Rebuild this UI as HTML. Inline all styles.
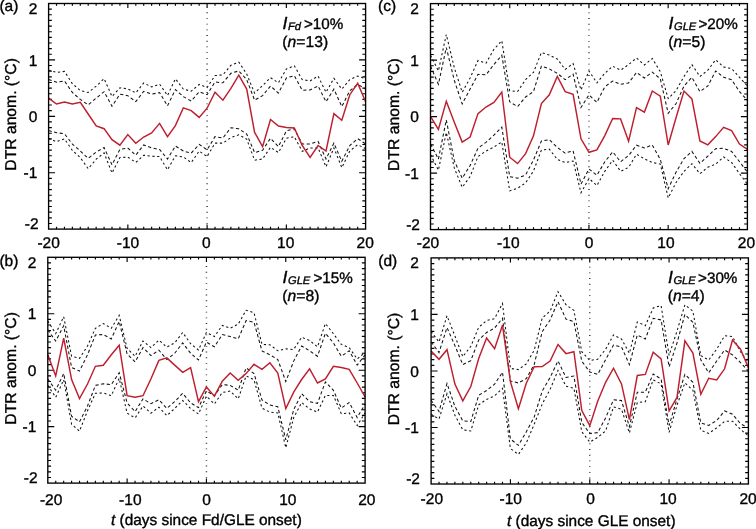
<!DOCTYPE html>
<html lang="en"><head><meta charset="utf-8"><title>DTR anomaly composites</title>
<style>html,body{margin:0;padding:0;background:#fff;overflow:hidden}svg{display:block;will-change:transform}text{font-family:"Liberation Sans",Arial,Helvetica,sans-serif;font-size:15.5px;fill:#000;stroke:#000;stroke-width:.36px;text-rendering:geometricPrecision}.fr{fill:none;stroke:#000;stroke-width:1.35}.tk{stroke:#000;stroke-width:1.15;fill:none}.red{fill:none;stroke:#be1e2d;stroke-width:1.45;stroke-linejoin:miter}.di{fill:none;stroke:#111;stroke-width:1.05;stroke-dasharray:3.2 2.5}.do{fill:none;stroke:#111;stroke-width:1.05;stroke-dasharray:2.2 2.6}.v0{stroke:#333;stroke-width:1.5;stroke-dasharray:.85 4.85;fill:none}.it{font-style:italic}.bigI{font-style:italic;font-size:17.6px}.sub{font-size:11.1px;font-style:italic}</style></head><body>
<svg width="756" height="529" viewBox="0 0 756 529">
<rect width="756" height="529" fill="#fff"/>
<g>
<path class="tk" d="M56.52 229.10v-2.31M56.52 3.50v2.31M64.45 229.10v-2.31M64.45 3.50v2.31M72.38 229.10v-2.31M72.38 3.50v2.31M80.30 229.10v-2.31M80.30 3.50v2.31M88.22 229.10v-2.31M88.22 3.50v2.31M96.15 229.10v-2.31M96.15 3.50v2.31M104.08 229.10v-2.31M104.08 3.50v2.31M112.00 229.10v-2.31M112.00 3.50v2.31M119.93 229.10v-2.31M119.93 3.50v2.31M127.85 229.10v-4.62M127.85 3.50v4.62M135.78 229.10v-2.31M135.78 3.50v2.31M143.70 229.10v-2.31M143.70 3.50v2.31M151.62 229.10v-2.31M151.62 3.50v2.31M159.55 229.10v-2.31M159.55 3.50v2.31M167.47 229.10v-2.31M167.47 3.50v2.31M175.40 229.10v-2.31M175.40 3.50v2.31M183.32 229.10v-2.31M183.32 3.50v2.31M191.25 229.10v-2.31M191.25 3.50v2.31M199.17 229.10v-2.31M199.17 3.50v2.31M207.10 229.10v-4.62M207.10 3.50v4.62M215.02 229.10v-2.31M215.02 3.50v2.31M222.95 229.10v-2.31M222.95 3.50v2.31M230.88 229.10v-2.31M230.88 3.50v2.31M238.80 229.10v-2.31M238.80 3.50v2.31M246.72 229.10v-2.31M246.72 3.50v2.31M254.65 229.10v-2.31M254.65 3.50v2.31M262.57 229.10v-2.31M262.57 3.50v2.31M270.50 229.10v-2.31M270.50 3.50v2.31M278.43 229.10v-2.31M278.43 3.50v2.31M286.35 229.10v-4.62M286.35 3.50v4.62M294.27 229.10v-2.31M294.27 3.50v2.31M302.20 229.10v-2.31M302.20 3.50v2.31M310.12 229.10v-2.31M310.12 3.50v2.31M318.05 229.10v-2.31M318.05 3.50v2.31M325.98 229.10v-2.31M325.98 3.50v2.31M333.90 229.10v-2.31M333.90 3.50v2.31M341.82 229.10v-2.31M341.82 3.50v2.31M349.75 229.10v-2.31M349.75 3.50v2.31M357.68 229.10v-2.31M357.68 3.50v2.31M48.60 9.14h3.25M365.60 9.14h-3.25M48.60 14.78h3.25M365.60 14.78h-3.25M48.60 20.42h3.25M365.60 20.42h-3.25M48.60 26.06h3.25M365.60 26.06h-3.25M48.60 31.70h3.25M365.60 31.70h-3.25M48.60 37.34h3.25M365.60 37.34h-3.25M48.60 42.98h3.25M365.60 42.98h-3.25M48.60 48.62h3.25M365.60 48.62h-3.25M48.60 54.26h3.25M365.60 54.26h-3.25M48.60 59.90h6.50M365.60 59.90h-6.50M48.60 65.54h3.25M365.60 65.54h-3.25M48.60 71.18h3.25M365.60 71.18h-3.25M48.60 76.82h3.25M365.60 76.82h-3.25M48.60 82.46h3.25M365.60 82.46h-3.25M48.60 88.10h3.25M365.60 88.10h-3.25M48.60 93.74h3.25M365.60 93.74h-3.25M48.60 99.38h3.25M365.60 99.38h-3.25M48.60 105.02h3.25M365.60 105.02h-3.25M48.60 110.66h3.25M365.60 110.66h-3.25M48.60 116.30h6.50M365.60 116.30h-6.50M48.60 121.94h3.25M365.60 121.94h-3.25M48.60 127.58h3.25M365.60 127.58h-3.25M48.60 133.22h3.25M365.60 133.22h-3.25M48.60 138.86h3.25M365.60 138.86h-3.25M48.60 144.50h3.25M365.60 144.50h-3.25M48.60 150.14h3.25M365.60 150.14h-3.25M48.60 155.78h3.25M365.60 155.78h-3.25M48.60 161.42h3.25M365.60 161.42h-3.25M48.60 167.06h3.25M365.60 167.06h-3.25M48.60 172.70h6.50M365.60 172.70h-6.50M48.60 178.34h3.25M365.60 178.34h-3.25M48.60 183.98h3.25M365.60 183.98h-3.25M48.60 189.62h3.25M365.60 189.62h-3.25M48.60 195.26h3.25M365.60 195.26h-3.25M48.60 200.90h3.25M365.60 200.90h-3.25M48.60 206.54h3.25M365.60 206.54h-3.25M48.60 212.18h3.25M365.60 212.18h-3.25M48.60 217.82h3.25M365.60 217.82h-3.25M48.60 223.46h3.25M365.60 223.46h-3.25"/>
<path class="v0" d="M207.10 12.30V229.10"/>
<polyline class="do" points="48.6,70.3 56.5,72.4 64.5,71.4 72.4,83.8 80.3,90.5 88.2,92.5 96.2,86.2 104.1,78.7 112.0,96.5 119.9,87.8 127.8,88.9 135.8,92.9 143.7,83.0 151.6,87.0 159.6,84.1 167.5,95.5 175.4,78.8 183.3,89.1 191.2,91.2 199.2,84.4 207.1,87.5 215.0,75.6 222.9,74.8 230.9,65.3 238.8,62.1 246.7,74.0 254.6,93.1 262.6,85.6 270.5,77.7 278.4,82.8 286.4,69.0 294.3,65.8 302.2,79.6 310.1,80.9 318.1,76.1 326.0,92.3 333.9,78.3 341.8,89.1 349.8,79.6 357.7,76.1 365.6,78.8"/>
<polyline class="di" points="48.6,79.4 56.5,82.2 64.5,81.0 72.4,92.5 80.3,99.4 88.2,104.9 96.2,98.1 104.1,91.7 112.0,106.3 119.9,94.1 127.8,95.7 135.8,101.6 143.7,91.3 151.6,94.1 159.6,92.6 167.5,105.8 175.4,89.6 183.3,96.6 191.2,101.0 199.2,91.8 207.1,94.7 215.0,82.0 222.9,82.8 230.9,73.3 238.8,70.9 246.7,79.6 254.6,100.2 262.6,95.6 270.5,86.0 278.4,93.1 286.4,78.0 294.3,75.6 302.2,90.2 310.1,89.9 318.1,86.0 326.0,101.8 333.9,89.1 341.8,106.6 349.8,90.7 357.7,84.4 365.6,89.1"/>
<polyline class="di" points="48.6,130.6 56.5,132.7 64.5,133.8 72.4,144.1 80.3,151.0 88.2,158.4 96.2,152.1 104.1,147.6 112.0,164.8 119.9,149.4 127.8,148.1 135.8,155.2 143.7,144.9 151.6,147.8 159.6,149.5 167.5,159.0 175.4,146.0 183.3,151.0 191.2,153.1 199.2,144.4 207.1,149.8 215.0,136.7 222.9,138.0 230.9,127.7 238.8,128.8 246.7,134.0 254.6,152.6 262.6,150.2 270.5,138.3 278.4,146.6 286.4,130.9 294.3,128.8 302.2,143.9 310.1,143.9 318.1,141.5 326.0,159.0 333.9,143.1 341.8,161.3 349.8,145.5 357.7,138.7 365.6,143.9"/>
<polyline class="do" points="48.6,138.6 56.5,141.7 64.5,138.9 72.4,150.5 80.3,157.6 88.2,168.7 96.2,159.2 104.1,152.9 112.0,173.0 119.9,157.6 127.8,157.1 135.8,162.4 143.7,155.2 151.6,156.3 159.6,156.5 167.5,169.8 175.4,155.8 183.3,156.9 191.2,162.6 199.2,151.0 207.1,156.6 215.0,143.1 222.9,143.1 230.9,137.5 238.8,134.8 246.7,139.1 254.6,160.2 262.6,159.0 270.5,147.3 278.4,152.6 286.4,138.3 294.3,136.7 302.2,151.3 310.1,147.9 318.1,147.9 326.0,166.9 333.9,147.9 341.8,167.7 349.8,151.0 357.7,144.7 365.6,148.7"/>
<polyline class="red" points="48.6,98.1 56.5,104.0 64.5,102.1 72.4,104.0 80.3,102.4 88.2,114.0 96.2,125.9 104.1,128.7 112.0,139.7 119.9,145.2 127.8,134.6 135.8,143.3 143.7,137.0 151.6,133.0 159.6,123.4 167.5,136.7 175.4,125.6 183.3,107.9 191.2,110.6 199.2,117.4 207.1,108.2 215.0,92.3 222.9,100.2 230.9,88.3 238.8,75.2 246.7,89.1 254.6,132.4 262.6,146.6 270.5,119.5 278.4,126.0 286.4,127.5 294.3,128.0 302.2,145.5 310.1,157.4 318.1,145.5 326.0,151.0 333.9,113.7 341.8,120.3 349.8,94.7 357.7,83.3 365.6,101.8"/>
<rect class="fr" x="48.60" y="3.50" width="317.00" height="225.60"/>
<text x="37.4" y="13.8" text-anchor="end">2</text>
<text x="37.4" y="65.5" text-anchor="end">1</text>
<text x="37.4" y="121.8" text-anchor="end">0</text>
<text x="37.4" y="178.2" text-anchor="end">-1</text>
<text x="38.6" y="229.4" text-anchor="end">-2</text>
<text x="48.6" y="248.1" text-anchor="middle">-20</text>
<text x="128.0" y="248.1" text-anchor="middle">-10</text>
<text x="206.3" y="248.1" text-anchor="middle">0</text>
<text x="285.7" y="248.1" text-anchor="middle">10</text>
<text x="365.2" y="248.1" text-anchor="middle">20</text>
<text x="-0.6" y="10.6">(a)</text>
<text transform="translate(16.4 114.4) rotate(-90)" text-anchor="middle" style="font-size:15.7px">DTR anom. (°C)</text>
<text x="282.6" y="28.5" class="bigI">I</text>
<text x="288.0" y="29.9" class="sub">Fd</text>
<text x="303.9" y="28.5" style="font-size:15.2px">&gt;10%</text>
<text x="282.3" y="47.0" style="font-size:15.7px">(<tspan class="it">n</tspan>=13)</text>
</g>
<g>
<path class="tk" d="M55.73 483.10v-2.31M55.73 257.30v2.31M63.66 483.10v-2.31M63.66 257.30v2.31M71.60 483.10v-2.31M71.60 257.30v2.31M79.53 483.10v-2.31M79.53 257.30v2.31M87.46 483.10v-2.31M87.46 257.30v2.31M95.39 483.10v-2.31M95.39 257.30v2.31M103.33 483.10v-2.31M103.33 257.30v2.31M111.26 483.10v-2.31M111.26 257.30v2.31M119.19 483.10v-2.31M119.19 257.30v2.31M127.12 483.10v-4.63M127.12 257.30v4.63M135.06 483.10v-2.31M135.06 257.30v2.31M142.99 483.10v-2.31M142.99 257.30v2.31M150.92 483.10v-2.31M150.92 257.30v2.31M158.86 483.10v-2.31M158.86 257.30v2.31M166.79 483.10v-2.31M166.79 257.30v2.31M174.72 483.10v-2.31M174.72 257.30v2.31M182.65 483.10v-2.31M182.65 257.30v2.31M190.58 483.10v-2.31M190.58 257.30v2.31M198.52 483.10v-2.31M198.52 257.30v2.31M206.45 483.10v-4.63M206.45 257.30v4.63M214.38 483.10v-2.31M214.38 257.30v2.31M222.31 483.10v-2.31M222.31 257.30v2.31M230.25 483.10v-2.31M230.25 257.30v2.31M238.18 483.10v-2.31M238.18 257.30v2.31M246.11 483.10v-2.31M246.11 257.30v2.31M254.05 483.10v-2.31M254.05 257.30v2.31M261.98 483.10v-2.31M261.98 257.30v2.31M269.91 483.10v-2.31M269.91 257.30v2.31M277.84 483.10v-2.31M277.84 257.30v2.31M285.77 483.10v-4.63M285.77 257.30v4.63M293.71 483.10v-2.31M293.71 257.30v2.31M301.64 483.10v-2.31M301.64 257.30v2.31M309.57 483.10v-2.31M309.57 257.30v2.31M317.50 483.10v-2.31M317.50 257.30v2.31M325.44 483.10v-2.31M325.44 257.30v2.31M333.37 483.10v-2.31M333.37 257.30v2.31M341.30 483.10v-2.31M341.30 257.30v2.31M349.24 483.10v-2.31M349.24 257.30v2.31M357.17 483.10v-2.31M357.17 257.30v2.31M47.80 262.94h3.25M365.10 262.94h-3.25M47.80 268.59h3.25M365.10 268.59h-3.25M47.80 274.24h3.25M365.10 274.24h-3.25M47.80 279.88h3.25M365.10 279.88h-3.25M47.80 285.53h3.25M365.10 285.53h-3.25M47.80 291.17h3.25M365.10 291.17h-3.25M47.80 296.81h3.25M365.10 296.81h-3.25M47.80 302.46h3.25M365.10 302.46h-3.25M47.80 308.11h3.25M365.10 308.11h-3.25M47.80 313.75h6.50M365.10 313.75h-6.50M47.80 319.40h3.25M365.10 319.40h-3.25M47.80 325.04h3.25M365.10 325.04h-3.25M47.80 330.69h3.25M365.10 330.69h-3.25M47.80 336.33h3.25M365.10 336.33h-3.25M47.80 341.98h3.25M365.10 341.98h-3.25M47.80 347.62h3.25M365.10 347.62h-3.25M47.80 353.26h3.25M365.10 353.26h-3.25M47.80 358.91h3.25M365.10 358.91h-3.25M47.80 364.56h3.25M365.10 364.56h-3.25M47.80 370.20h6.50M365.10 370.20h-6.50M47.80 375.85h3.25M365.10 375.85h-3.25M47.80 381.49h3.25M365.10 381.49h-3.25M47.80 387.13h3.25M365.10 387.13h-3.25M47.80 392.78h3.25M365.10 392.78h-3.25M47.80 398.43h3.25M365.10 398.43h-3.25M47.80 404.07h3.25M365.10 404.07h-3.25M47.80 409.72h3.25M365.10 409.72h-3.25M47.80 415.36h3.25M365.10 415.36h-3.25M47.80 421.00h3.25M365.10 421.00h-3.25M47.80 426.65h6.50M365.10 426.65h-6.50M47.80 432.30h3.25M365.10 432.30h-3.25M47.80 437.94h3.25M365.10 437.94h-3.25M47.80 443.59h3.25M365.10 443.59h-3.25M47.80 449.23h3.25M365.10 449.23h-3.25M47.80 454.88h3.25M365.10 454.88h-3.25M47.80 460.52h3.25M365.10 460.52h-3.25M47.80 466.17h3.25M365.10 466.17h-3.25M47.80 471.81h3.25M365.10 471.81h-3.25M47.80 477.46h3.25M365.10 477.46h-3.25"/>
<path class="v0" d="M206.45 266.10V483.10"/>
<polyline class="do" points="47.8,321.0 55.7,333.6 63.7,316.7 71.6,356.3 79.5,358.4 87.5,346.0 95.4,328.3 103.3,323.5 111.3,328.3 119.2,315.4 127.1,348.4 135.1,356.3 143.0,341.0 150.9,347.6 158.9,340.1 166.8,347.1 174.7,342.9 182.7,332.5 190.6,343.7 198.5,350.0 206.4,332.5 214.4,336.5 222.3,325.4 230.2,328.3 238.2,324.1 246.1,310.3 254.0,312.7 262.0,344.4 269.9,344.8 277.8,350.8 285.8,348.9 293.7,349.5 301.6,337.3 309.6,340.5 317.5,346.8 325.4,323.5 333.4,333.7 341.3,344.4 349.2,347.6 357.2,359.0 365.1,352.4"/>
<polyline class="di" points="47.8,329.8 55.7,341.1 63.7,325.8 71.6,367.5 79.5,371.1 87.5,354.8 95.4,334.9 103.3,334.6 111.3,338.9 119.2,321.4 127.1,354.0 135.1,361.9 143.0,347.6 150.9,355.6 158.9,350.2 166.8,359.5 174.7,353.2 182.7,342.9 190.6,353.2 198.5,360.0 206.4,342.1 214.4,346.8 222.3,334.6 230.2,336.5 238.2,338.9 246.1,320.6 254.0,322.2 262.0,351.0 269.9,354.8 277.8,359.5 285.8,381.5 293.7,361.1 301.6,346.0 309.6,350.8 317.5,356.3 325.4,333.3 333.4,342.9 341.3,356.3 349.2,350.8 357.2,365.1 365.1,354.8"/>
<polyline class="di" points="47.8,379.0 55.7,390.2 63.7,373.5 71.6,416.3 79.5,421.9 87.5,406.0 95.4,385.4 103.3,383.8 111.3,384.6 119.2,372.7 127.1,402.9 135.1,411.6 143.0,398.9 150.9,403.7 158.9,399.7 166.8,408.4 174.7,401.6 182.7,393.3 190.6,402.9 198.5,407.6 206.4,391.0 214.4,395.7 222.3,384.6 230.2,385.4 238.2,390.2 246.1,367.9 254.0,373.5 262.0,400.0 269.9,405.0 277.8,406.8 285.8,439.8 293.7,409.7 301.6,393.8 309.6,401.7 317.5,403.3 325.4,381.9 333.4,390.3 341.3,408.1 349.2,402.5 357.2,417.6 365.1,404.1"/>
<polyline class="do" points="47.8,385.4 55.7,397.3 63.7,379.8 71.6,424.3 79.5,431.1 87.5,410.8 95.4,393.3 103.3,393.0 111.3,395.7 119.2,378.3 127.1,413.2 135.1,417.9 143.0,406.0 150.9,413.2 158.9,407.2 166.8,415.6 174.7,408.4 182.7,400.5 190.6,408.4 198.5,414.0 206.4,396.2 214.4,404.0 222.3,392.5 230.2,391.0 238.2,398.9 246.1,375.9 254.0,379.8 262.0,408.2 269.9,412.1 277.8,412.9 285.8,447.8 293.7,417.6 301.6,402.5 309.6,408.9 317.5,412.1 325.4,395.4 333.4,395.4 341.3,413.7 349.2,412.9 357.2,425.6 365.1,412.9"/>
<polyline class="red" points="47.8,354.8 55.7,375.9 63.7,338.1 71.6,379.6 79.5,398.6 87.5,384.0 95.4,366.3 103.3,365.3 111.3,354.8 119.2,345.2 127.1,395.7 135.1,397.3 143.0,395.7 150.9,379.0 158.9,360.4 166.8,357.9 174.7,365.1 182.7,372.3 190.6,367.7 198.5,401.6 206.4,387.0 214.4,396.2 222.3,381.2 230.2,373.0 238.2,380.3 246.1,373.6 254.0,364.3 262.0,369.4 269.9,362.8 277.8,373.1 285.8,408.6 293.7,392.2 301.6,379.5 309.6,368.9 317.5,383.0 325.4,379.0 333.4,366.3 341.3,367.5 349.2,369.4 357.2,383.0 365.1,397.0"/>
<rect class="fr" x="47.80" y="257.30" width="317.30" height="225.80"/>
<text x="36.4" y="267.6" text-anchor="end">2</text>
<text x="36.4" y="319.3" text-anchor="end">1</text>
<text x="36.4" y="375.8" text-anchor="end">0</text>
<text x="36.4" y="432.2" text-anchor="end">-1</text>
<text x="37.6" y="483.4" text-anchor="end">-2</text>
<text x="51.1" y="504.5" text-anchor="middle">-20</text>
<text x="130.3" y="504.5" text-anchor="middle">-10</text>
<text x="206.5" y="504.5" text-anchor="middle">0</text>
<text x="287.8" y="504.5" text-anchor="middle">10</text>
<text x="366.8" y="504.5" text-anchor="middle">20</text>
<text x="-0.6" y="265.9">(b)</text>
<text transform="translate(16.4 368.4) rotate(-90)" text-anchor="middle" style="font-size:15.7px">DTR anom. (°C)</text>
<text x="282.6" y="282.9" class="bigI">I</text>
<text x="288.0" y="284.3" class="sub">GLE</text>
<text x="313.5" y="282.9" style="font-size:15.2px">&gt;15%</text>
<text x="282.3" y="301.4" style="font-size:15.7px">(<tspan class="it">n</tspan>=8)</text>
<text x="111.0" y="525.1" style="font-size:15.4px"><tspan class="it">t</tspan> (days since Fd/GLE onset)</text>
</g>
<g>
<path class="tk" d="M438.42 229.60v-2.32M438.42 3.60v2.32M446.35 229.60v-2.32M446.35 3.60v2.32M454.27 229.60v-2.32M454.27 3.60v2.32M462.19 229.60v-2.32M462.19 3.60v2.32M470.11 229.60v-2.32M470.11 3.60v2.32M478.03 229.60v-2.32M478.03 3.60v2.32M485.96 229.60v-2.32M485.96 3.60v2.32M493.88 229.60v-2.32M493.88 3.60v2.32M501.80 229.60v-2.32M501.80 3.60v2.32M509.73 229.60v-4.63M509.73 3.60v4.63M517.65 229.60v-2.32M517.65 3.60v2.32M525.57 229.60v-2.32M525.57 3.60v2.32M533.49 229.60v-2.32M533.49 3.60v2.32M541.41 229.60v-2.32M541.41 3.60v2.32M549.34 229.60v-2.32M549.34 3.60v2.32M557.26 229.60v-2.32M557.26 3.60v2.32M565.18 229.60v-2.32M565.18 3.60v2.32M573.11 229.60v-2.32M573.11 3.60v2.32M581.03 229.60v-2.32M581.03 3.60v2.32M588.95 229.60v-4.63M588.95 3.60v4.63M596.87 229.60v-2.32M596.87 3.60v2.32M604.79 229.60v-2.32M604.79 3.60v2.32M612.72 229.60v-2.32M612.72 3.60v2.32M620.64 229.60v-2.32M620.64 3.60v2.32M628.56 229.60v-2.32M628.56 3.60v2.32M636.49 229.60v-2.32M636.49 3.60v2.32M644.41 229.60v-2.32M644.41 3.60v2.32M652.33 229.60v-2.32M652.33 3.60v2.32M660.25 229.60v-2.32M660.25 3.60v2.32M668.17 229.60v-4.63M668.17 3.60v4.63M676.10 229.60v-2.32M676.10 3.60v2.32M684.02 229.60v-2.32M684.02 3.60v2.32M691.94 229.60v-2.32M691.94 3.60v2.32M699.87 229.60v-2.32M699.87 3.60v2.32M707.79 229.60v-2.32M707.79 3.60v2.32M715.71 229.60v-2.32M715.71 3.60v2.32M723.63 229.60v-2.32M723.63 3.60v2.32M731.55 229.60v-2.32M731.55 3.60v2.32M739.48 229.60v-2.32M739.48 3.60v2.32M430.50 9.25h3.25M747.40 9.25h-3.25M430.50 14.90h3.25M747.40 14.90h-3.25M430.50 20.55h3.25M747.40 20.55h-3.25M430.50 26.20h3.25M747.40 26.20h-3.25M430.50 31.85h3.25M747.40 31.85h-3.25M430.50 37.50h3.25M747.40 37.50h-3.25M430.50 43.15h3.25M747.40 43.15h-3.25M430.50 48.80h3.25M747.40 48.80h-3.25M430.50 54.45h3.25M747.40 54.45h-3.25M430.50 60.10h6.50M747.40 60.10h-6.50M430.50 65.75h3.25M747.40 65.75h-3.25M430.50 71.40h3.25M747.40 71.40h-3.25M430.50 77.05h3.25M747.40 77.05h-3.25M430.50 82.70h3.25M747.40 82.70h-3.25M430.50 88.35h3.25M747.40 88.35h-3.25M430.50 94.00h3.25M747.40 94.00h-3.25M430.50 99.65h3.25M747.40 99.65h-3.25M430.50 105.30h3.25M747.40 105.30h-3.25M430.50 110.95h3.25M747.40 110.95h-3.25M430.50 116.60h6.50M747.40 116.60h-6.50M430.50 122.25h3.25M747.40 122.25h-3.25M430.50 127.90h3.25M747.40 127.90h-3.25M430.50 133.55h3.25M747.40 133.55h-3.25M430.50 139.20h3.25M747.40 139.20h-3.25M430.50 144.85h3.25M747.40 144.85h-3.25M430.50 150.50h3.25M747.40 150.50h-3.25M430.50 156.15h3.25M747.40 156.15h-3.25M430.50 161.80h3.25M747.40 161.80h-3.25M430.50 167.45h3.25M747.40 167.45h-3.25M430.50 173.10h6.50M747.40 173.10h-6.50M430.50 178.75h3.25M747.40 178.75h-3.25M430.50 184.40h3.25M747.40 184.40h-3.25M430.50 190.05h3.25M747.40 190.05h-3.25M430.50 195.70h3.25M747.40 195.70h-3.25M430.50 201.35h3.25M747.40 201.35h-3.25M430.50 207.00h3.25M747.40 207.00h-3.25M430.50 212.65h3.25M747.40 212.65h-3.25M430.50 218.30h3.25M747.40 218.30h-3.25M430.50 223.95h3.25M747.40 223.95h-3.25"/>
<path class="v0" d="M588.95 12.40V229.60"/>
<polyline class="do" points="430.5,55.2 438.4,70.9 446.3,34.5 454.3,67.7 462.2,92.3 470.1,78.0 478.0,60.5 486.0,63.2 493.9,49.4 501.8,40.7 509.7,90.7 517.6,91.5 525.6,79.6 533.5,72.4 541.4,52.5 549.3,55.1 557.3,59.0 565.2,69.4 573.1,63.5 581.0,90.0 589.0,71.0 596.9,82.9 604.8,73.3 612.7,66.2 620.6,70.2 628.6,64.6 636.5,58.0 644.4,65.0 652.3,58.5 660.3,71.7 668.2,98.6 676.1,90.5 684.0,76.5 691.9,64.6 699.9,76.5 707.8,70.2 715.7,59.8 723.6,67.0 731.6,68.6 739.5,77.3 747.4,86.0"/>
<polyline class="di" points="430.5,66.0 438.4,84.3 446.3,47.5 454.3,80.4 462.2,103.9 470.1,89.1 478.0,74.3 486.0,74.8 493.9,64.5 501.8,55.3 509.7,101.8 517.6,106.6 525.6,97.0 533.5,91.5 541.4,66.1 549.3,68.9 557.3,73.3 565.2,79.7 573.1,74.1 581.0,107.5 589.0,94.8 596.9,102.4 604.8,86.8 612.7,81.0 620.6,84.4 628.6,82.9 636.5,72.5 644.4,78.0 652.3,72.1 660.3,78.9 668.2,113.3 676.1,103.5 684.0,86.0 691.9,77.3 699.9,91.6 707.8,86.0 715.7,71.0 723.6,77.3 731.6,79.7 739.5,91.6 747.4,100.3"/>
<polyline class="di" points="430.5,144.0 438.4,159.1 446.3,120.0 454.3,160.7 462.2,178.2 470.1,165.5 478.0,148.2 486.0,142.3 493.9,135.2 501.8,127.2 509.7,176.6 517.6,178.2 525.6,175.0 533.5,159.9 541.4,141.0 549.3,139.6 557.3,147.5 565.2,153.1 573.1,150.7 581.0,184.0 589.0,169.0 596.9,175.3 604.8,161.8 612.7,151.8 620.6,161.8 628.6,155.5 636.5,145.2 644.4,147.9 652.3,145.0 660.3,159.4 668.2,188.7 676.1,172.1 684.0,158.6 691.9,151.4 699.9,163.3 707.8,156.2 715.7,148.7 723.6,148.3 731.6,151.4 739.5,161.7 747.4,172.1"/>
<polyline class="do" points="430.5,154.4 438.4,170.2 446.3,132.5 454.3,167.9 462.2,187.4 470.1,176.6 478.0,156.5 486.0,151.0 493.9,147.0 501.8,142.0 509.7,190.9 517.6,188.2 525.6,182.9 533.5,171.0 541.4,150.0 549.3,149.1 557.3,159.4 565.2,162.6 573.1,161.0 581.0,192.8 589.0,178.5 596.9,185.6 604.8,171.3 612.7,160.2 620.6,171.3 628.6,167.4 636.5,154.2 644.4,158.8 652.3,162.5 660.3,164.1 668.2,197.9 676.1,182.4 684.0,171.3 691.9,163.7 699.9,173.7 707.8,167.3 715.7,164.1 723.6,157.0 731.6,162.5 739.5,173.7 747.4,184.0"/>
<polyline class="red" points="430.5,116.4 438.4,129.4 446.3,101.3 454.3,122.3 462.2,142.1 470.1,137.1 478.0,113.6 486.0,107.0 493.9,102.5 501.8,92.0 509.7,157.2 517.6,163.6 525.6,153.6 533.5,135.8 541.4,103.6 549.3,94.8 557.3,76.5 565.2,91.6 573.1,94.3 581.0,138.8 589.0,152.3 596.9,149.9 604.8,135.6 612.7,118.5 620.6,118.9 628.6,141.2 636.5,107.5 644.4,112.1 652.3,91.0 660.3,96.2 668.2,145.0 676.1,117.5 684.0,91.0 691.9,98.9 699.9,140.9 707.8,144.8 715.7,136.6 723.6,127.4 731.6,130.7 739.5,144.0 747.4,149.3"/>
<rect class="fr" x="430.50" y="3.60" width="316.90" height="226.00"/>
<text x="418.8" y="13.9" text-anchor="end">2</text>
<text x="418.8" y="65.7" text-anchor="end">1</text>
<text x="418.8" y="122.1" text-anchor="end">0</text>
<text x="418.8" y="178.7" text-anchor="end">-1</text>
<text x="420.0" y="229.9" text-anchor="end">-2</text>
<text x="428.0" y="248.0" text-anchor="middle">-20</text>
<text x="508.3" y="248.0" text-anchor="middle">-10</text>
<text x="589.0" y="248.0" text-anchor="middle">0</text>
<text x="665.9" y="248.0" text-anchor="middle">10</text>
<text x="746.4" y="248.0" text-anchor="middle">20</text>
<text x="378.0" y="10.9">(c)</text>
<text transform="translate(398.5 114.6) rotate(-90)" text-anchor="middle" style="font-size:15.7px">DTR anom. (°C)</text>
<text x="668.6" y="28.5" class="bigI">I</text>
<text x="674.0" y="29.9" class="sub">GLE</text>
<text x="698.4" y="28.5" style="font-size:15.2px">&gt;20%</text>
<text x="668.3" y="47.0" style="font-size:15.7px">(<tspan class="it">n</tspan>=5)</text>
</g>
<g>
<path class="tk" d="M439.03 484.00v-2.32M439.03 257.90v2.32M446.97 484.00v-2.32M446.97 257.90v2.32M454.90 484.00v-2.32M454.90 257.90v2.32M462.83 484.00v-2.32M462.83 257.90v2.32M470.76 484.00v-2.32M470.76 257.90v2.32M478.70 484.00v-2.32M478.70 257.90v2.32M486.63 484.00v-2.32M486.63 257.90v2.32M494.56 484.00v-2.32M494.56 257.90v2.32M502.49 484.00v-2.32M502.49 257.90v2.32M510.43 484.00v-4.64M510.43 257.90v4.64M518.36 484.00v-2.32M518.36 257.90v2.32M526.29 484.00v-2.32M526.29 257.90v2.32M534.22 484.00v-2.32M534.22 257.90v2.32M542.15 484.00v-2.32M542.15 257.90v2.32M550.09 484.00v-2.32M550.09 257.90v2.32M558.02 484.00v-2.32M558.02 257.90v2.32M565.95 484.00v-2.32M565.95 257.90v2.32M573.88 484.00v-2.32M573.88 257.90v2.32M581.82 484.00v-2.32M581.82 257.90v2.32M589.75 484.00v-4.64M589.75 257.90v4.64M597.68 484.00v-2.32M597.68 257.90v2.32M605.62 484.00v-2.32M605.62 257.90v2.32M613.55 484.00v-2.32M613.55 257.90v2.32M621.48 484.00v-2.32M621.48 257.90v2.32M629.41 484.00v-2.32M629.41 257.90v2.32M637.35 484.00v-2.32M637.35 257.90v2.32M645.28 484.00v-2.32M645.28 257.90v2.32M653.21 484.00v-2.32M653.21 257.90v2.32M661.14 484.00v-2.32M661.14 257.90v2.32M669.08 484.00v-4.64M669.08 257.90v4.64M677.01 484.00v-2.32M677.01 257.90v2.32M684.94 484.00v-2.32M684.94 257.90v2.32M692.87 484.00v-2.32M692.87 257.90v2.32M700.81 484.00v-2.32M700.81 257.90v2.32M708.74 484.00v-2.32M708.74 257.90v2.32M716.67 484.00v-2.32M716.67 257.90v2.32M724.60 484.00v-2.32M724.60 257.90v2.32M732.53 484.00v-2.32M732.53 257.90v2.32M740.47 484.00v-2.32M740.47 257.90v2.32M431.10 263.55h3.25M748.40 263.55h-3.25M431.10 269.20h3.25M748.40 269.20h-3.25M431.10 274.86h3.25M748.40 274.86h-3.25M431.10 280.51h3.25M748.40 280.51h-3.25M431.10 286.16h3.25M748.40 286.16h-3.25M431.10 291.81h3.25M748.40 291.81h-3.25M431.10 297.47h3.25M748.40 297.47h-3.25M431.10 303.12h3.25M748.40 303.12h-3.25M431.10 308.77h3.25M748.40 308.77h-3.25M431.10 314.42h6.50M748.40 314.42h-6.50M431.10 320.08h3.25M748.40 320.08h-3.25M431.10 325.73h3.25M748.40 325.73h-3.25M431.10 331.38h3.25M748.40 331.38h-3.25M431.10 337.03h3.25M748.40 337.03h-3.25M431.10 342.69h3.25M748.40 342.69h-3.25M431.10 348.34h3.25M748.40 348.34h-3.25M431.10 353.99h3.25M748.40 353.99h-3.25M431.10 359.64h3.25M748.40 359.64h-3.25M431.10 365.30h3.25M748.40 365.30h-3.25M431.10 370.95h6.50M748.40 370.95h-6.50M431.10 376.60h3.25M748.40 376.60h-3.25M431.10 382.25h3.25M748.40 382.25h-3.25M431.10 387.91h3.25M748.40 387.91h-3.25M431.10 393.56h3.25M748.40 393.56h-3.25M431.10 399.21h3.25M748.40 399.21h-3.25M431.10 404.87h3.25M748.40 404.87h-3.25M431.10 410.52h3.25M748.40 410.52h-3.25M431.10 416.17h3.25M748.40 416.17h-3.25M431.10 421.82h3.25M748.40 421.82h-3.25M431.10 427.48h6.50M748.40 427.48h-6.50M431.10 433.13h3.25M748.40 433.13h-3.25M431.10 438.78h3.25M748.40 438.78h-3.25M431.10 444.43h3.25M748.40 444.43h-3.25M431.10 450.08h3.25M748.40 450.08h-3.25M431.10 455.74h3.25M748.40 455.74h-3.25M431.10 461.39h3.25M748.40 461.39h-3.25M431.10 467.04h3.25M748.40 467.04h-3.25M431.10 472.69h3.25M748.40 472.69h-3.25M431.10 478.35h3.25M748.40 478.35h-3.25"/>
<path class="v0" d="M589.75 266.70V484.00"/>
<polyline class="do" points="431.1,331.5 439.0,342.0 447.0,315.7 454.9,336.0 462.8,356.7 470.8,346.3 478.7,327.3 486.6,320.6 494.6,318.6 502.5,303.5 510.4,368.4 518.4,369.6 526.3,363.8 534.2,350.3 542.2,318.0 550.1,311.2 558.0,291.7 566.0,304.8 573.9,310.4 581.8,351.7 589.8,360.5 597.7,359.2 605.6,349.3 613.5,335.0 621.5,339.0 629.4,353.3 637.3,322.0 645.3,325.7 653.2,308.0 661.1,305.6 669.1,355.4 677.0,331.0 684.9,304.8 692.9,311.2 700.8,355.6 708.7,360.0 716.7,349.2 724.6,335.8 732.5,336.6 740.5,351.7 748.4,362.6"/>
<polyline class="di" points="431.1,342.0 439.0,352.5 447.0,327.6 454.9,345.6 462.8,364.6 470.8,360.6 478.7,340.0 486.6,332.5 494.6,328.1 502.5,318.3 510.4,381.0 518.4,383.0 526.3,378.6 534.2,364.6 542.2,331.6 550.1,320.0 558.0,301.7 566.0,319.1 573.9,321.8 581.8,361.2 589.8,372.0 597.7,374.4 605.6,359.8 613.5,345.0 621.5,346.9 629.4,364.6 637.3,335.0 645.3,339.0 653.2,318.3 661.1,319.9 669.1,366.9 677.0,342.9 684.9,314.4 692.9,322.3 700.8,359.8 708.7,372.8 716.7,361.0 724.6,350.0 732.5,354.8 740.5,362.6 748.4,371.2"/>
<polyline class="di" points="431.1,400.2 439.0,411.5 447.0,383.4 454.9,406.4 462.8,420.9 470.8,421.5 478.7,395.3 486.6,390.5 494.6,384.1 502.5,372.2 510.4,439.0 518.4,445.3 526.3,431.8 534.2,417.0 542.2,391.0 550.1,377.5 558.0,360.9 566.0,377.5 573.9,376.0 581.8,422.5 589.8,433.6 597.7,432.6 605.6,417.9 613.5,399.8 621.5,400.6 629.4,426.7 637.3,392.2 645.3,392.2 653.2,374.0 661.1,379.1 669.1,425.5 677.0,399.0 684.9,374.4 692.9,382.3 700.8,423.0 708.7,425.4 716.7,420.5 724.6,411.0 732.5,414.2 740.5,423.7 748.4,427.9"/>
<polyline class="do" points="431.1,414.3 439.0,419.0 447.0,393.7 454.9,415.2 462.8,429.8 470.8,431.0 478.7,404.8 486.6,399.4 494.6,395.9 502.5,388.3 510.4,448.5 518.4,454.4 526.3,442.9 534.2,424.2 542.2,404.0 550.1,389.4 558.0,370.4 566.0,386.3 573.9,388.2 581.8,431.8 589.8,442.1 597.7,437.3 605.6,431.0 613.5,406.9 621.5,409.3 629.4,433.0 637.3,402.5 645.3,401.7 653.2,379.9 661.1,383.9 669.1,432.3 677.0,405.3 684.9,382.8 692.9,390.2 700.8,430.2 708.7,433.4 716.7,427.9 724.6,421.4 732.5,421.2 740.5,429.4 748.4,435.8"/>
<polyline class="red" points="431.1,351.1 439.0,359.3 447.0,349.7 454.9,384.1 462.8,400.8 470.8,386.5 478.7,358.5 486.6,338.1 494.6,348.7 502.5,325.2 510.4,381.7 518.4,408.7 526.3,383.3 534.2,366.8 542.2,366.5 550.1,361.0 558.0,344.5 566.0,353.6 573.9,351.7 581.8,410.5 589.8,425.6 597.7,401.3 605.6,382.3 613.5,368.2 621.5,383.9 629.4,419.7 637.3,375.5 645.3,374.4 653.2,352.3 661.1,359.0 669.1,410.9 677.0,397.4 684.9,340.8 692.9,353.1 700.8,394.2 708.7,378.3 716.7,379.9 724.6,368.8 732.5,340.0 740.5,349.2 748.4,367.8"/>
<rect class="fr" x="431.10" y="257.90" width="317.30" height="226.10"/>
<text x="418.8" y="268.2" text-anchor="end">2</text>
<text x="418.8" y="320.0" text-anchor="end">1</text>
<text x="418.8" y="376.5" text-anchor="end">0</text>
<text x="418.8" y="433.0" text-anchor="end">-1</text>
<text x="420.0" y="484.3" text-anchor="end">-2</text>
<text x="431.8" y="504.1" text-anchor="middle">-20</text>
<text x="510.7" y="504.1" text-anchor="middle">-10</text>
<text x="590.6" y="504.1" text-anchor="middle">0</text>
<text x="668.1" y="504.1" text-anchor="middle">10</text>
<text x="748.1" y="504.1" text-anchor="middle">20</text>
<text x="378.3" y="266.3">(d)</text>
<text transform="translate(398.5 369.0) rotate(-90)" text-anchor="middle" style="font-size:15.7px">DTR anom. (°C)</text>
<text x="668.0" y="282.5" class="bigI">I</text>
<text x="673.4" y="283.9" class="sub">GLE</text>
<text x="698.1" y="282.5" style="font-size:15.2px">&gt;30%</text>
<text x="667.7" y="301.0" style="font-size:15.7px">(<tspan class="it">n</tspan>=4)</text>
<text x="507.0" y="525.9" style="font-size:15.4px"><tspan class="it">t</tspan> (days since GLE onset)</text>
</g>
</svg></body></html>
